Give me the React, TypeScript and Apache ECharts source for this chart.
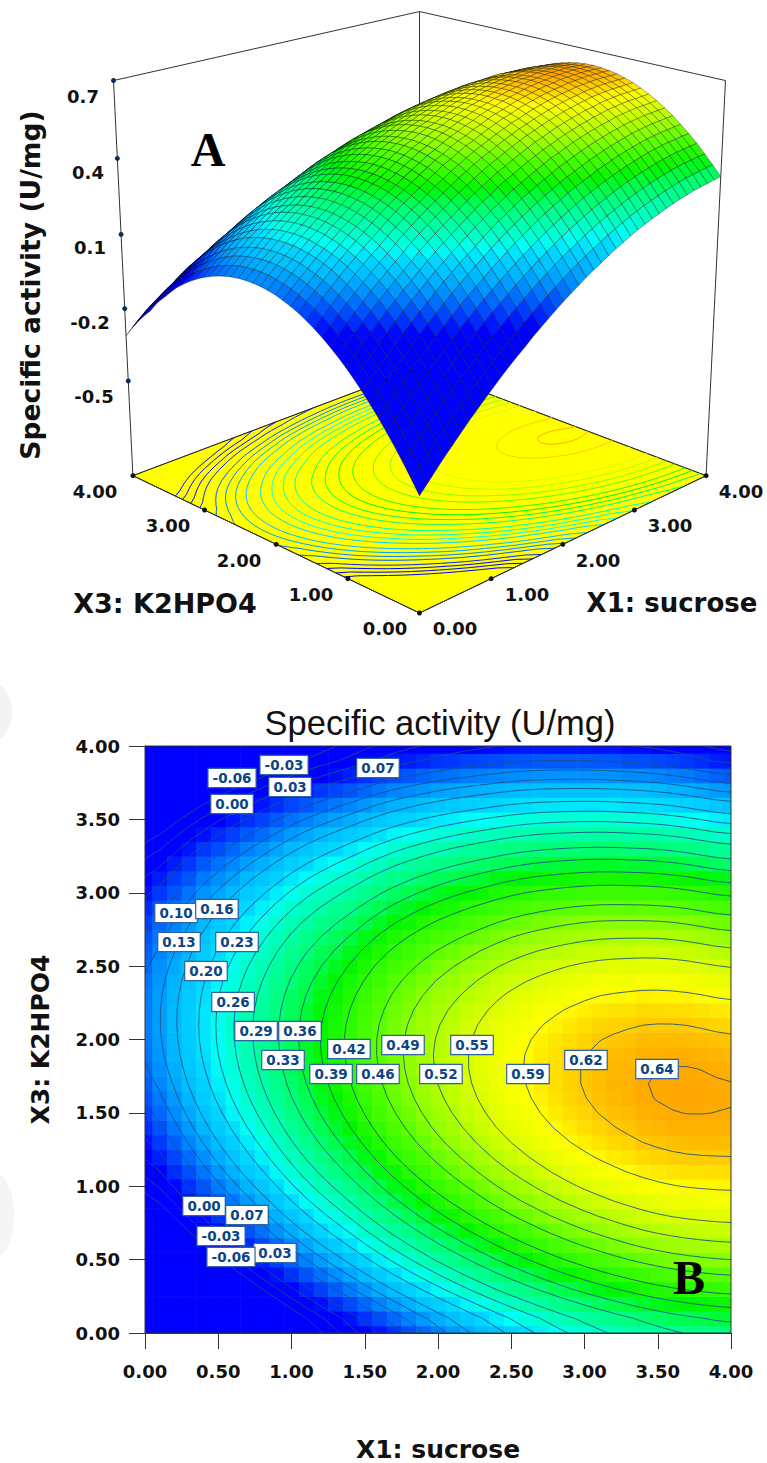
import React, { useEffect, useRef } from "react";
import * as echarts from "echarts";

// Specific activity (U/mg x 1000) read per grid point: one row per X3 step (0.00 -> 4.00), one column per X1 step (0.00 -> 4.00)
const activityMilli: number[][] = [
[-456,-421,-386,-351,-319,-286,-254,-224,-194,-165,-136,-109,-83,-58,-32,-8,15,38,60,80,100,120,138,155,172,189,203,218,232,244,256,266,277,286,295,302,310,315,320,325,329],
[-406,-371,-336,-302,-270,-237,-206,-176,-146,-117,-89,-62,-36,-12,13,37,60,82,104,124,144,163,181,198,215,231,245,259,273,285,297,307,317,326,335,342,349,354,358,363,366],
[-358,-323,-289,-255,-223,-191,-160,-130,-101,-72,-44,-17,8,32,56,80,103,125,146,166,186,204,222,239,255,271,285,298,312,324,335,345,355,363,372,379,385,390,394,398,401],
[-312,-278,-244,-210,-179,-147,-116,-87,-58,-29,-2,25,50,73,97,121,144,165,186,206,225,243,261,277,293,309,322,335,349,360,371,381,390,398,407,413,419,424,427,431,434],
[-269,-235,-201,-168,-137,-105,-75,-46,-18,11,38,64,89,112,136,159,182,203,223,243,262,279,297,313,329,344,357,370,383,394,405,414,423,431,439,445,451,455,458,462,464],
[-228,-195,-161,-128,-97,-66,-36,-7,20,49,76,101,126,149,172,195,218,239,258,278,297,313,331,346,362,377,389,402,415,425,436,445,454,461,469,475,480,484,487,490,492],
[-190,-157,-123,-91,-60,-29,0,29,56,84,111,136,161,183,206,229,251,272,291,310,329,345,362,377,393,407,419,432,444,454,465,473,482,489,497,502,507,511,513,516,518],
[-154,-121,-88,-56,-25,6,34,63,89,117,144,168,193,215,237,260,282,303,321,340,359,374,391,406,421,435,447,459,471,481,491,499,508,514,522,527,531,535,537,539,541],
[-120,-87,-55,-23,8,38,66,94,120,148,174,198,223,244,266,289,310,331,349,368,386,401,418,432,447,461,472,484,496,505,515,523,531,537,545,549,553,557,558,560,562],
[-89,-56,-24,7,38,68,95,123,149,176,202,226,250,271,293,315,336,357,374,393,411,425,442,456,470,484,495,507,518,527,537,544,552,558,565,569,573,576,577,579,580],
[-60,-27,5,36,66,95,122,150,175,202,228,252,275,296,317,339,360,380,397,416,433,447,463,477,491,505,515,527,538,547,556,563,571,576,583,587,590,593,594,595,596],
[-34,-1,31,61,91,120,147,174,199,225,251,275,298,318,339,361,381,401,418,436,453,467,482,496,510,523,533,545,555,564,573,580,587,592,599,602,605,608,608,609,610],
[-10,23,54,84,114,142,169,196,220,246,272,295,318,338,359,380,400,420,436,454,471,484,499,513,526,539,549,560,570,579,587,594,601,605,612,615,618,620,620,621,621],
[12,44,75,105,134,162,189,215,239,265,290,313,336,355,376,397,416,436,452,470,486,499,514,527,540,553,562,573,583,591,599,606,612,616,623,625,628,630,630,630,630],
[31,63,94,123,152,180,206,232,256,281,306,329,351,370,391,411,430,450,465,483,499,511,526,539,552,564,573,584,593,601,609,615,621,625,631,633,636,637,637,637,636],
[48,80,110,139,168,195,221,247,270,295,320,342,364,383,403,423,442,461,476,494,509,521,536,548,561,573,581,592,601,609,616,622,628,631,637,639,641,642,642,641,640],
[62,94,124,152,181,208,233,259,282,307,331,353,375,393,413,433,451,470,485,502,517,529,543,555,568,579,587,598,606,614,621,627,632,635,641,642,644,645,644,643,642],
[74,106,136,163,192,218,243,269,291,316,340,361,383,401,420,440,458,477,491,508,523,534,548,560,572,583,591,601,609,617,623,629,634,636,642,643,644,645,644,642,641],
[84,115,145,172,200,226,251,276,298,323,346,367,389,406,425,445,463,481,495,512,526,537,551,562,574,585,592,602,610,617,623,629,633,635,641,641,642,643,641,639,638],
[91,122,152,178,206,232,256,281,303,327,350,371,392,409,428,447,465,483,496,513,527,537,551,562,574,584,591,601,608,615,621,626,630,632,637,637,638,638,636,634,632],
[96,127,156,182,210,235,259,284,305,329,352,372,393,410,428,447,465,482,495,511,525,535,549,559,571,581,588,597,604,610,616,621,625,626,631,631,631,631,629,626,624],
[98,129,158,183,211,236,260,284,305,329,351,371,392,408,426,445,462,479,492,507,521,531,544,554,566,575,582,591,597,603,609,614,617,618,623,622,622,622,619,616,614],
[98,129,157,182,210,234,258,282,302,326,348,367,388,404,421,440,457,474,486,501,515,524,537,547,558,567,574,582,588,594,599,604,607,607,612,611,610,610,607,603,601],
[96,127,154,179,207,230,254,278,297,321,343,361,382,397,414,433,449,466,478,492,506,515,527,537,548,557,563,571,577,582,587,592,594,594,599,597,596,596,592,588,586],
[91,122,149,173,201,224,247,271,290,313,335,353,373,388,405,423,439,456,467,481,495,503,515,525,535,544,550,558,563,568,573,577,579,578,583,581,580,579,575,571,568],
[84,115,141,165,193,215,238,262,280,303,325,342,362,377,393,411,427,443,454,468,481,489,501,510,520,529,535,542,547,552,556,560,562,560,565,563,561,560,556,551,548],
[74,105,131,155,183,204,227,250,268,291,312,329,349,363,379,397,412,428,439,452,465,473,484,493,503,511,517,524,528,533,537,540,542,540,544,542,540,539,534,529,526],
[62,93,118,142,170,190,213,236,254,276,297,314,333,347,362,380,395,411,421,434,447,454,465,473,483,491,497,503,507,512,515,518,520,517,521,519,517,515,510,504,501],
[48,78,103,127,155,174,197,219,237,259,279,296,314,328,343,360,375,391,401,413,426,433,444,451,461,469,474,480,484,488,491,494,495,492,496,493,491,489,483,477,474],
[31,61,86,109,137,156,178,200,218,239,259,276,293,307,322,338,353,369,378,390,403,410,420,427,436,444,449,455,458,462,465,467,468,465,468,465,463,460,454,448,444],
[12,42,66,89,117,135,157,179,196,217,237,253,270,284,298,314,329,344,353,365,377,384,394,400,409,417,421,427,430,433,436,438,439,435,438,435,432,429,423,416,412],
[-10,20,44,66,94,112,133,155,172,192,212,228,245,258,272,288,302,317,326,337,349,356,365,371,380,387,391,397,399,402,405,406,407,403,406,402,399,396,389,382,378],
[-34,-4,20,41,69,87,107,129,145,165,185,200,217,230,244,259,273,288,296,307,319,325,334,340,348,355,359,364,366,369,371,372,373,368,371,367,364,360,353,345,341],
[-60,-30,-6,14,42,60,79,100,116,136,155,170,187,199,213,228,242,256,264,275,286,292,301,306,314,321,324,329,331,333,335,336,336,331,334,330,326,322,315,306,302],
[-89,-59,-35,-15,12,30,48,69,85,104,123,138,154,166,180,194,208,222,229,240,251,256,265,270,277,284,287,292,293,295,296,297,297,292,294,290,286,281,274,265,260],
[-120,-90,-66,-47,-20,-3,15,36,51,70,89,103,119,131,144,158,172,186,192,203,213,218,227,231,238,245,248,252,253,255,255,256,256,250,252,248,243,238,231,221,216],
[-154,-124,-100,-81,-55,-38,-20,0,15,34,52,66,82,93,106,120,133,147,153,163,173,178,186,190,197,203,206,210,210,212,212,212,212,206,208,203,198,193,185,175,170],
[-190,-160,-137,-118,-92,-76,-58,-38,-24,-5,13,27,42,53,66,79,92,106,111,121,131,135,143,147,153,159,162,165,165,167,166,166,166,160,161,156,151,145,137,127,121],
[-228,-198,-175,-157,-131,-116,-98,-78,-65,-46,-29,-15,0,10,23,36,49,62,67,76,86,90,98,101,107,113,115,118,118,119,118,118,117,111,112,107,101,95,87,76,70],
[-269,-239,-216,-199,-173,-158,-141,-121,-108,-90,-73,-60,-45,-35,-23,-10,3,16,20,29,39,42,50,53,58,64,66,69,68,69,68,67,66,60,60,55,49,42,34,23,17],
[-312,-282,-259,-243,-217,-202,-186,-166,-154,-136,-119,-106,-92,-82,-71,-58,-45,-32,-29,-20,-11,-8,0,2,7,13,15,17,16,17,15,14,13,6,6,1,-6,-13,-21,-33,-39],
];

const contourLevels = [-0.06,-0.03,0,0.03,0.07,0.1,0.13,0.16,0.2,0.23,0.26,0.29,0.33,0.36,0.39,0.42,0.46,0.49,0.52,0.55,0.59,0.62,0.64];
const contourTags: [number, number, string][] = [
  [0.594,3.782,"-0.06"],[0.949,3.871,"-0.03"],[1.59,3.85,"0.07"],[0.99,3.721,"0.03"],[0.594,3.605,"0.00"],
  [0.212,2.862,"0.10"],[0.491,2.889,"0.16"],[0.232,2.664,"0.13"],[0.628,2.664,"0.23"],[0.416,2.467,"0.20"],
  [0.601,2.256,"0.26"],[0.758,2.058,"0.29"],[1.058,2.058,"0.36"],[0.942,1.86,"0.33"],[1.392,1.935,"0.42"],
  [1.27,1.765,"0.39"],[1.59,1.765,"0.46"],[1.761,1.963,"0.49"],[2.02,1.765,"0.52"],[2.232,1.963,"0.55"],
  [2.614,1.765,"0.59"],[3.01,1.86,"0.62"],[3.495,1.799,"0.64"],
  [0.403,0.865,"0.00"],[0.696,0.804,"0.07"],[0.519,0.661,"-0.03"],[0.887,0.545,"0.03"],[0.587,0.518,"-0.06"],
];
const zTicks = [0.7, 0.4, 0.1, -0.2, -0.5];
const floorTicks = [1, 2, 3];
const Z_MIN = -0.904;
const Z_MAX = 0.7;

const colorStops: [number, number[]][] = [
  [-0.06,[0,0,255]],[0,[0,0,255]],[0.03,[0,40,255]],[0.07,[0,90,255]],[0.1,[0,128,255]],[0.13,[0,160,255]],
  [0.16,[0,190,255]],[0.2,[0,215,255]],[0.23,[0,255,245]],[0.26,[0,255,205]],[0.29,[0,255,170]],[0.33,[0,255,120]],
  [0.36,[0,252,70]],[0.39,[0,246,0]],[0.42,[40,250,0]],[0.46,[85,255,0]],[0.49,[135,255,0]],[0.52,[175,255,0]],
  [0.55,[215,255,0]],[0.59,[255,255,0]],[0.62,[255,205,0]],[0.64,[255,172,0]],[0.66,[255,150,0]],
];
function colorFor(z: number) {
  if (z <= colorStops[0][0]) return "rgb(0,0,255)";
  for (let i = 1; i < colorStops.length; i++) {
    const [b, cb] = colorStops[i];
    if (z <= b) {
      const [a, ca] = colorStops[i - 1];
      const t = (z - a) / (b - a);
      return `rgb(${ca.map((c, k) => Math.round(c + (cb[k] - c) * t)).join(",")})`;
    }
  }
  return "rgb(255,150,0)";
}

const N = activityMilli.length - 1;
const zAt = (i: number, j: number) => activityMilli[j][i] / 1000;
const proj = (u: number, v: number, w: number): number[] => {
  const p = u - v, q = u + v, D = 1 + 0.1375 * q - 0.0721 * w;
  return [419.5 + (326 * p) / D, (613 - 71.9 * q - 455.3 * w) / D];
};
const wOf = (z: number) => (z - Z_MIN) / (Z_MAX - Z_MIN);

function smooth(f: number[][]) {
  const g = (j: number, i: number) => f[Math.min(N, Math.max(0, j))][Math.min(N, Math.max(0, i))];
  return f.map((r, j) => r.map((_, i) => {
    let s = 0;
    for (let a = -1; a <= 1; a++) for (let b = -1; b <= 1; b++) s += (2 - Math.abs(a)) * (2 - Math.abs(b)) * g(j + a, i + b);
    return s / 16;
  }));
}
let field = activityMilli.map((r) => r.map((v) => v / 1000));
field = smooth(smooth(field));

function contourLines(level: number): number[][][] {
  const pts = new Map<string, number[]>();
  const adj = new Map<string, string[]>();
  const link = (a: string, b: string) => {
    (adj.get(a) || adj.set(a, []).get(a)!).push(b);
    (adj.get(b) || adj.set(b, []).get(b)!).push(a);
  };
  const cross = (key: string, x0: number, y0: number, x1: number, y1: number, a: number, b: number) => {
    if ((a < level) === (b < level)) return null;
    const t = (level - a) / (b - a);
    pts.set(key, [(x0 + (x1 - x0) * t) * 0.1, (y0 + (y1 - y0) * t) * 0.1]);
    return key;
  };
  for (let j = 0; j < N; j++) for (let i = 0; i < N; i++) {
    const a = field[j][i], b = field[j][i + 1], c = field[j + 1][i + 1], d = field[j + 1][i];
    const es = [
      cross(`h${i},${j}`, i, j, i + 1, j, a, b),
      cross(`v${i + 1},${j}`, i + 1, j, i + 1, j + 1, b, c),
      cross(`h${i},${j + 1}`, i, j + 1, i + 1, j + 1, d, c),
      cross(`v${i},${j}`, i, j, i, j + 1, a, d),
    ].filter(Boolean) as string[];
    if (es.length === 2) link(es[0], es[1]);
    if (es.length === 4) { link(es[0], es[3]); link(es[1], es[2]); }
  }
  const seen = new Set<string>();
  const out: number[][][] = [];
  const walk = (start: string) => {
    const line: number[][] = [];
    let cur: string | undefined = start;
    let last = start;
    while (cur && !seen.has(cur)) {
      seen.add(cur);
      last = cur;
      line.push(pts.get(cur)!);
      cur = (adj.get(cur) || []).find((n) => !seen.has(n));
    }
    if (line.length > 2 && (adj.get(start) || []).includes(last)) line.push(line[0]);
    if (line.length > 1) out.push(line);
  };
  adj.forEach((n, k) => { if (n.length === 1 && !seen.has(k)) walk(k); });
  adj.forEach((_, k) => { if (!seen.has(k)) walk(k); });
  return out;
}
const linesByLevel = contourLevels.map(contourLines);

const heatCells: number[][] = [];
for (let j = 0; j <= N; j++) for (let i = 0; i <= N; i++) heatCells.push([i * 0.1, j * 0.1, zAt(i, j)]);

const meshCells: number[][] = [];
for (let s = 2 * N - 2; s >= 0; s--) for (let i = 0; i < N; i++) {
  const j = s - i;
  if (j >= 0 && j < N) meshCells.push([i, j]);
}

const BOLD = '"DejaVu Sans"';
const tick3d = (text: string, x: number, y: number) => ({
  type: "text", x, y, silent: true,
  style: { text, fill: "#111", font: `bold 18px ${BOLD}`, textAlign: "center", textVerticalAlign: "middle" },
});

function buildOption(): any {
  const hidden = { xAxisIndex: 1, yAxisIndex: 1, silent: true };
  const backEdges = [[[0,1,0],[0,1,1]],[[1,0,0],[1,0,1]],[[1,1,0],[1,1,1]],[[0,1,1],[1,1,1]],[[1,1,1],[1,0,1]],[[0,1,0],[1,1,0]],[[1,1,0],[1,0,0]]];
  const frontEdges = [[[0,0,0],[0,1,0]],[[0,0,0],[1,0,0]]];
  const edgeSeries = (edges: number[][][]) => ({
    type: "custom", ...hidden, clip: false, data: edges.map((_, k) => [k, 0]),
    renderItem: (p: any, api: any) => {
      const e = edges[p.dataIndex];
      const a = api.coord(proj(e[0][0], e[0][1], e[0][2])), b = api.coord(proj(e[1][0], e[1][1], e[1][2]));
      return { type: "line", shape: { x1: a[0], y1: a[1], x2: b[0], y2: b[1] }, style: { stroke: "#333", lineWidth: 1 } };
    },
  });
  const a0 = proj(0, 0, 0), aL = proj(0, 1, 0), aR = proj(1, 0, 0);
  const floorDots: number[][] = [a0, aL, aR];
  floorTicks.forEach((t) => {
    const f = t / 4;
    floorDots.push([a0[0] + (aL[0] - a0[0]) * f, a0[1] + (aL[1] - a0[1]) * f]);
    floorDots.push([a0[0] + (aR[0] - a0[0]) * f, a0[1] + (aR[1] - a0[1]) * f]);
  });
  return {
    animation: false,
    backgroundColor: "#fff",
    title: { text: "Specific activity (U/mg)", left: 435, top: 700, textAlign: "center",
      textStyle: { fontFamily: '"Liberation Sans"', fontWeight: "normal", fontSize: 34.5, color: "#111" } },
    grid: [
      { left: 145, top: 746, width: 586, height: 587, outerBoundsMode: "none", containLabel: false },
      { left: 0, top: 0, width: 767, height: 700, outerBoundsMode: "none", containLabel: false },
    ],
    xAxis: [
      { type: "value", gridIndex: 0, min: 0, max: 4, interval: 0.5, splitLine: { show: false },
        name: "X1: sucrose", nameLocation: "middle", nameGap: 104,
        nameTextStyle: { fontFamily: BOLD, fontWeight: "bold", fontSize: 25, color: "#111" },
        axisLine: { lineStyle: { color: "#333" } }, axisTick: { show: true, length: 16, lineStyle: { color: "#333" } },
        axisLabel: { margin: 29, formatter: (v: number) => v.toFixed(2), fontFamily: BOLD, fontWeight: "bold", fontSize: 18, color: "#111" } },
      { type: "value", gridIndex: 1, min: 0, max: 767, show: false },
    ],
    yAxis: [
      { type: "value", gridIndex: 0, min: 0, max: 4, interval: 0.5, splitLine: { show: false },
        name: "X3: K2HPO4", nameLocation: "middle", nameGap: 92, nameRotate: 90,
        nameTextStyle: { fontFamily: BOLD, fontWeight: "bold", fontSize: 25, color: "#111" },
        axisLine: { lineStyle: { color: "#333" } }, axisTick: { show: true, length: 16, lineStyle: { color: "#333" } },
        axisLabel: { margin: 25, formatter: (v: number) => v.toFixed(2), fontFamily: BOLD, fontWeight: "bold", fontSize: 18, color: "#111" } },
      { type: "value", gridIndex: 1, min: 0, max: 700, inverse: true, show: false },
    ],
    graphic: [
      { type: "ellipse", x: -12, y: 712, silent: true, z: -10, shape: { cx: 0, cy: 0, rx: 24, ry: 32 }, style: { fill: "#f3f3f3" } },
      { type: "ellipse", x: -8, y: 1215, silent: true, z: -10, shape: { cx: 0, cy: 0, rx: 22, ry: 44 }, style: { fill: "#f5f5f5" } },
      ...zTicks.map((z, k) => tick3d(z.toFixed(1), [83, 88, 90, 90, 94][k], [96, 172, 247, 322, 396][k])),
      tick3d("4.00", 95, 491), tick3d("3.00", 168, 525), tick3d("2.00", 239, 560), tick3d("1.00", 311, 594), tick3d("0.00", 385, 628),
      tick3d("0.00", 455, 628), tick3d("1.00", 527, 594), tick3d("2.00", 598, 560), tick3d("3.00", 670, 525), tick3d("4.00", 741, 491),
      { type: "text", x: 165, y: 603, silent: true, style: { text: "X3: K2HPO4", fill: "#111", font: `bold 27px ${BOLD}`, textAlign: "center", textVerticalAlign: "middle" } },
      { type: "text", x: 672, y: 603, silent: true, style: { text: "X1: sucrose", fill: "#111", font: `bold 26px ${BOLD}`, textAlign: "center", textVerticalAlign: "middle" } },
      { type: "text", x: 30, y: 285, rotation: Math.PI / 2, silent: true, style: { text: "Specific activity (U/mg)", fill: "#111", font: `bold 26.6px ${BOLD}`, textAlign: "center", textVerticalAlign: "middle" } },
      { type: "text", x: 208, y: 149, z: 20, silent: true, style: { text: "A", fill: "#000", font: 'bold 48px "Liberation Serif"', textAlign: "center", textVerticalAlign: "middle" } },
      { type: "text", x: 689, y: 1277, z: 20, silent: true, style: { text: "B", fill: "#000", font: 'bold 48px "Liberation Serif"', textAlign: "center", textVerticalAlign: "middle" } },
    ],
    series: [
      // panel B
      { type: "custom", silent: true, clip: true, data: heatCells, z: 1,
        renderItem: (_: any, api: any) => {
          const x = api.value(0), y = api.value(1);
          const tl = api.coord([Math.max(0, x - 0.05), Math.min(4, y + 0.05)]);
          const br = api.coord([Math.min(4, x + 0.05), Math.max(0, y - 0.05)]);
          return { type: "rect", shape: { x: tl[0], y: tl[1], width: br[0] - tl[0] + 0.6, height: br[1] - tl[1] + 0.6 }, style: { fill: colorFor(api.value(2)) } };
        } },
      { type: "custom", silent: true, clip: true, z: 2, data: contourLevels.map((l, k) => [k, l]),
        renderItem: (p: any, api: any) => ({
          type: "group",
          children: linesByLevel[p.dataIndex].map((ln) => ({
            type: "polyline", shape: { points: ln.map((q) => api.coord(q)) },
            style: { stroke: "rgba(25,80,130,0.85)", fill: "none", lineWidth: 1 },
          })),
        }) },
      { type: "custom", silent: true, clip: false, z: 3, data: [[0, 0]],
        renderItem: (_: any, api: any) => {
          const tl = api.coord([0, 4]), br = api.coord([4, 0]);
          return { type: "rect", shape: { x: tl[0], y: tl[1], width: br[0] - tl[0], height: br[1] - tl[1] }, style: { fill: "none", stroke: "#333", lineWidth: 1 } };
        } },
      { type: "scatter", silent: true, z: 5, symbolSize: 1, itemStyle: { color: "rgba(0,0,0,0)", opacity: 1 },
        data: contourTags.map((t) => ({ value: [t[0], t[1]], name: t[2] })),
        label: { show: true, position: "inside", formatter: (p: any) => p.name, backgroundColor: "#fff", borderColor: "#2f62a0", borderWidth: 1.2,
          padding: [2, 4, 2, 4], color: "#0b4585", fontFamily: BOLD, fontWeight: "bold", fontSize: 13.5 } },
      // panel A
      edgeSeries(backEdges),
      { type: "custom", ...hidden, clip: false, z: 2, data: [[0, 0]],
        renderItem: (_: any, api: any) => ({
          type: "polygon", shape: { points: [proj(0,0,0), proj(1,0,0), proj(1,1,0), proj(0,1,0)].map((q) => api.coord(q)) },
          style: { fill: "#ffff00", stroke: "#222", lineWidth: 1 },
        }) },
      { type: "custom", ...hidden, clip: false, z: 3, data: contourLevels.map((l, k) => [k, l]),
        renderItem: (p: any, api: any) => ({
          type: "group",
          children: linesByLevel[p.dataIndex].map((ln) => ({
            type: "polyline", shape: { points: ln.map((q) => api.coord(proj(q[0] / 4, q[1] / 4, 0))) },
            style: { stroke: colorFor(contourLevels[p.dataIndex]), fill: "none", lineWidth: 1 },
          })),
        }) },
      { ...edgeSeries(frontEdges), z: 4 },
      { type: "custom", ...hidden, clip: false, z: 5, data: meshCells,
        renderItem: (_: any, api: any) => {
          const i = api.value(0), j = api.value(1);
          const pts = [[i, j], [i + 1, j], [i + 1, j + 1], [i, j + 1]].map(([a, b]) =>
            api.coord(proj(a / N, b / N, wOf(zAt(a, b)))));
          const z = (zAt(i, j) + zAt(i + 1, j) + zAt(i + 1, j + 1) + zAt(i, j + 1)) / 4;
          return { type: "polygon", shape: { points: pts }, style: { fill: colorFor(z), stroke: "rgba(0,0,0,0.55)", lineWidth: 0.6 } };
        } },
      { type: "scatter", ...hidden, z: 6, symbolSize: 5, itemStyle: { color: "#0a2f5c", opacity: 1 }, data: zTicks.map((z) => proj(0, 1, wOf(z))) },
      { type: "scatter", ...hidden, z: 6, symbolSize: 5, itemStyle: { color: "#111", opacity: 1 }, data: floorDots },
    ],
  };
}

export default function App() {
  const ref = useRef<HTMLDivElement>(null);
  useEffect(() => {
    const chart = echarts.init(ref.current!, undefined, { renderer: "svg" });
    chart.setOption(buildOption());
    return () => chart.dispose();
  }, []);
  return <div ref={ref} style={{ position: "absolute", left: 0, top: 0, width: 767, height: 1463 }} />;
}
